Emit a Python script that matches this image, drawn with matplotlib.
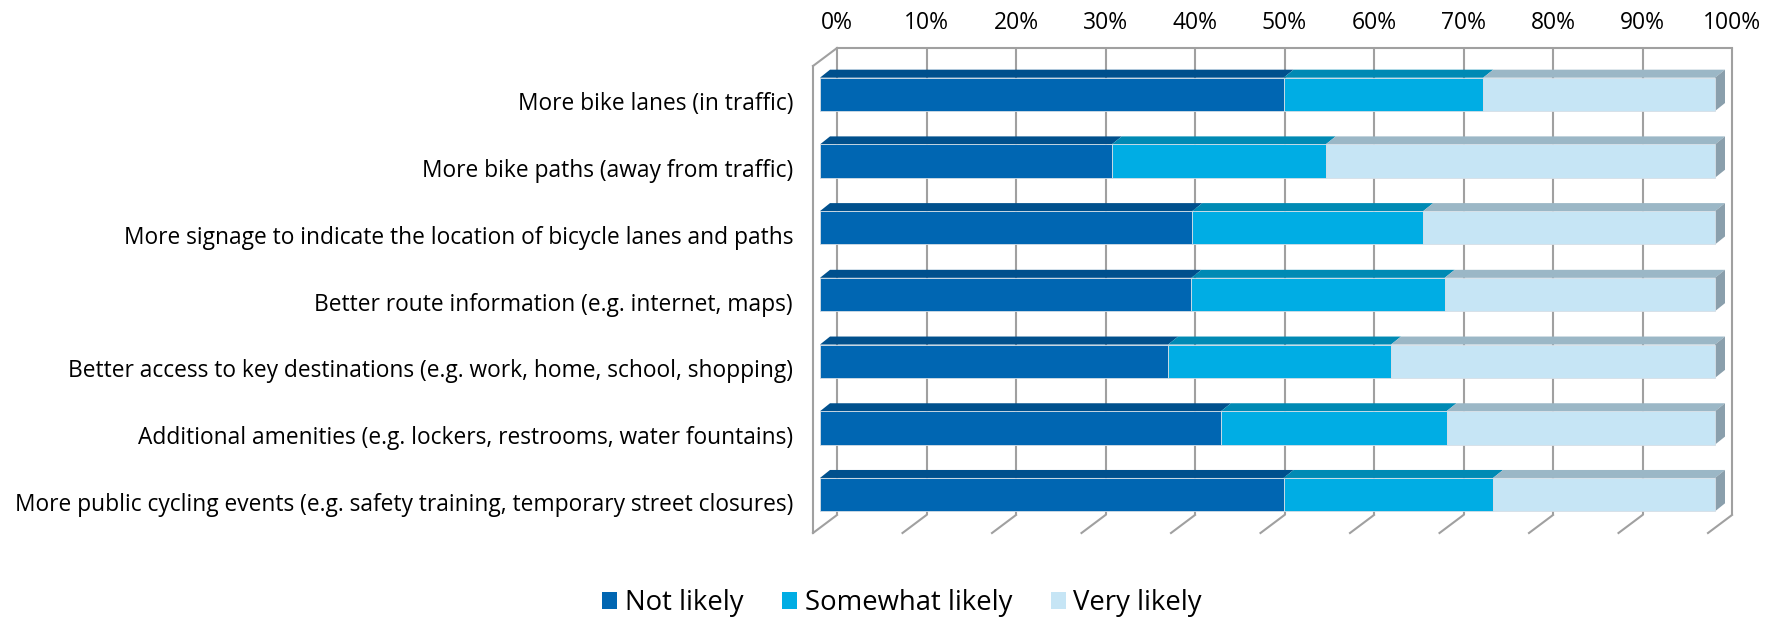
import matplotlib
matplotlib.use("Agg")
import matplotlib.pyplot as plt
from matplotlib.patches import Polygon, Patch
from matplotlib.transforms import offset_copy

# ---------------- data ----------------
categories = [
    "More bike lanes (in traffic)",
    "More bike paths (away from traffic)",
    "More signage to indicate the location of bicycle lanes and paths",
    "Better route information (e.g. internet, maps)",
    "Better access to key destinations (e.g. work, home, school, shopping)",
    "Additional amenities (e.g. lockers, restrooms, water fountains)",
    "More public cycling events (e.g. safety training, temporary street closures)",
]
not_likely = [51.8, 32.6, 41.6, 41.5, 38.9, 44.8, 51.8]
somewhat_likely = [22.3, 23.9, 25.8, 28.3, 24.9, 25.2, 23.4]
very_likely = [25.9, 43.5, 32.6, 30.2, 36.2, 30.0, 24.8]
series_names = ["Not likely", "Somewhat likely", "Very likely"]
x_ticks = [0, 10, 20, 30, 40, 50, 60, 70, 80, 90, 100]
x_tick_labels = ["0%", "10%", "20%", "30%", "40%", "50%", "60%", "70%", "80%", "90%", "100%"]

# ---------------- style ----------------
front_colors = ["#0066B2", "#00ADE4", "#C6E5F5"]
top_colors = ["#00508D", "#008AB4", "#9BB7C6"]
side_color = "#8A9FAC"
grid_color = "#A0A0A0"
FONT = ["Open Sans", "DejaVu Sans"]

W, H, DPI = 1768, 618, 100
fig = plt.figure(figsize=(W / DPI, H / DPI), dpi=DPI)
fig.patch.set_facecolor("white")

ax_l, ax_r, ax_t, ax_b = 820, 1715, 61, 528  # pixel box of bar front plane
ax = fig.add_axes([ax_l / W, (H - ax_b) / H, (ax_r - ax_l) / W, (ax_b - ax_t) / H])
n = len(categories)
ax.set_xlim(0, 100)
ax.set_ylim(n - 0.5, -0.5)
ax.axis("off")

ppx = (ax_r - ax_l) / 100.0     # pixels per percent
ppy = (ax_b - ax_t) / n         # pixels per category

# depth geometry (pixels)
bar_dx, bar_dy = 10, 8
wall_front = offset_copy(ax.transData, fig=fig, x=-7, y=-5, units="dots")
wall_back = offset_copy(ax.transData, fig=fig, x=17, y=13, units="dots")
wall_dx, wall_dy = 24, 18

ylo, yhi = -0.5, n - 0.5
lw_grid = 1.5

# back wall gridlines and top edge
for t in x_ticks:
    ax.plot([t, t], [yhi, ylo], transform=wall_back, color=grid_color,
            lw=lw_grid, clip_on=False, zorder=1, solid_capstyle="butt")
ax.plot([0, 100], [ylo, ylo], transform=wall_back, color=grid_color,
        lw=lw_grid, clip_on=False, zorder=1)
# floor diagonals
for t in x_ticks:
    ax.plot([t, t + wall_dx / ppx], [yhi, yhi - wall_dy / ppy], transform=wall_front,
            color=grid_color, lw=lw_grid, clip_on=False, zorder=1)
# left wall
ax.plot([0, 0], [yhi, ylo], transform=wall_front, color=grid_color,
        lw=lw_grid, clip_on=False, zorder=1)
ax.plot([0, wall_dx / ppx], [ylo, ylo - wall_dy / ppy], transform=wall_front,
        color=grid_color, lw=lw_grid, clip_on=False, zorder=1)

# bars
bh = 0.5
ddx = bar_dx / ppx
ddy = bar_dy / ppy
series = [not_likely, somewhat_likely, very_likely]
for i in range(n):
    left = 0.0
    for k, vals in enumerate(series):
        v = vals[i]
        ax.barh(i, v, left=left, height=bh, color=front_colors[k],
                edgecolor="#D5DEE6", linewidth=0.6, zorder=3, clip_on=False)
        ytop = i - bh / 2
        top = Polygon([(left, ytop), (left + v, ytop), (left + v + ddx, ytop - ddy),
                       (left + ddx, ytop - ddy)], closed=True,
                      facecolor=top_colors[k], edgecolor="none", zorder=2.9, clip_on=False)
        ax.add_patch(top)
        left += v
    ytop, ybot = i - bh / 2, i + bh / 2
    side = Polygon([(left, ytop), (left + ddx, ytop - ddy), (left + ddx, ybot - ddy),
                    (left, ybot)], closed=True, facecolor=side_color,
                   edgecolor="none", zorder=2.9, clip_on=False)
    ax.add_patch(side)

# category labels
lab_tr = offset_copy(ax.transData, fig=fig, x=-27, y=-16, units="dots")
for i, c in enumerate(categories):
    ax.text(0, i, c, transform=lab_tr, ha="right", va="baseline",
            fontsize=16.35, family=FONT, color="#000000")

# top percent labels
top_tr = offset_copy(ax.transData, fig=fig, x=17, y=13 + 19, units="dots")
for t, s in zip(x_ticks, x_tick_labels):
    ax.text(t, ylo, s, transform=top_tr, ha="center", va="baseline",
            fontsize=16.5, family=FONT, color="#000000")

# legend
handles = [Patch(facecolor=c, edgecolor="none") for c in front_colors]
leg = fig.legend(handles, series_names, loc="center", ncol=3,
                 bbox_to_anchor=(902 / W, (H - 603) / H), frameon=False,
                 prop={"family": FONT, "size": 19.8}, handlelength=0.56,
                 handleheight=0.56, handletextpad=0.27, columnspacing=1.4,
                 borderpad=0, borderaxespad=0)

fig.savefig("out.png", dpi=DPI, facecolor="white")
